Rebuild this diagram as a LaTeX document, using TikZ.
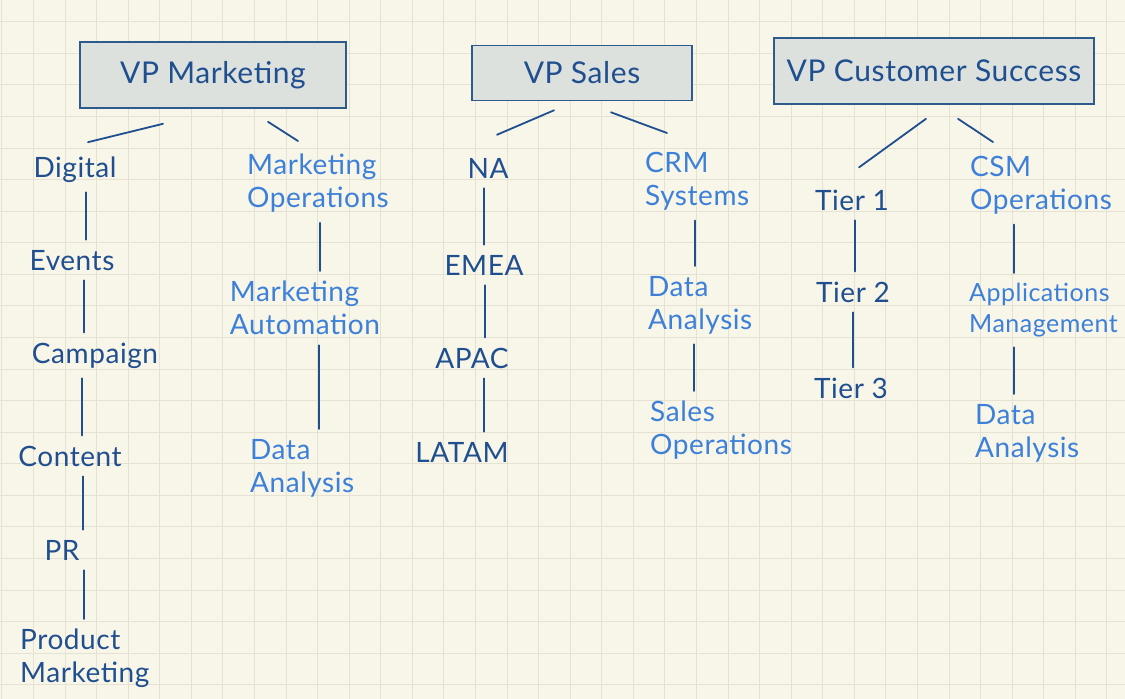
\documentclass[tikz,border=0pt]{standalone}
\usepackage{fontspec}
\newfontfamily\handfam{Lato}[LetterSpace=2]
\definecolor{paper}{HTML}{F8F5E9}
\definecolor{paperline}{HTML}{E6E2D3}
\definecolor{ink}{HTML}{1F4F8F}
\definecolor{sky}{HTML}{3C80D9}
\definecolor{boxfill}{HTML}{DCE1DE}
\definecolor{boxline}{HTML}{2D5B8D}
\newcommand{\handsz}{\handfam\fontsize{28}{33}\selectfont}
\newcommand{\vpsz}{\handfam\fontsize{30}{36}\selectfont}
\tikzset{
  vp/.style={draw=boxline, fill=boxfill, line width=1.6pt, font=\vpsz, text=ink, inner sep=0pt},
  dk/.style={font=\handsz, text=ink, inner sep=0pt, anchor=base},
  lt/.style={font=\handsz, text=sky, inner sep=0pt, align=left, anchor=north west},
  link/.style={draw=ink, line width=1.8pt, line cap=round},
  gridln/.style={draw=paperline, line width=0.9pt},
}

\begin{document}
\begin{tikzpicture}[x=1pt, y=-1pt]
  \useasboundingbox (0,0) rectangle (1125,699);
  \fill[paper] (0,0) rectangle (1125,699);
  \foreach \i in {0,...,35} \draw[gridln] ({1.9+31.57*\i},0) -- ++(0,699);
  \foreach \j in {0,...,21} \draw[gridln] (0,{21.7+31.57*\j}) -- ++(1125,0);

  % heads
  \node[vp, minimum width=266, minimum height=66] (vpm) at (213,75) {VP Marketing};
  \node[vp, minimum width=220, minimum height=55] (vps) at (582,73) {VP Sales};
  \node[vp, minimum width=320, minimum height=66] (vpcs) at (934,71) {VP Customer Success};

  % marketing
  \node[dk] (dig) at (75,177) {Digital};
  \node[dk] (evt) at (72,270) {Events};
  \node[dk] (cmp) at (95,363) {Campaign};
  \node[dk] (cnt) at (70,466) {Content};
  \node[dk] (pr) at (62,560) {PR};
  \node[dk, align=left, anchor=north west] (pm) at (20,629) {Product\\Marketing};
  \node[lt, anchor=north] (mop) at (318,154) {Marketing\\Operations};
  \node[lt, anchor=north] (mau) at (305,281) {Marketing\\Automation};
  \node[lt] (mda) at (250,439) {Data\\Analysis};

  % sales
  \node[dk] (na) at (488,178) {NA};
  \node[dk] (emea) at (484,275) {EMEA};
  \node[dk] (apac) at (472,368) {APAC};
  \node[dk] (latam) at (462,462) {LATAM};
  \node[lt] (crm) at (645,152) {CRM\\Systems};
  \node[lt] (sda) at (648,276) {Data\\Analysis};
  \node[lt] (sop) at (650,401) {Sales\\Operations};

  % customer success
  \node[dk] (t1) at (852,210) {Tier 1};
  \node[dk] (t2) at (853,302) {Tier 2};
  \node[dk] (t3) at (851,398) {Tier 3};
  \node[lt] (csm) at (970,156) {CSM\\Operations};
  \node[lt, font=\handfam\fontsize{25}{31}\selectfont] (app) at (969,283) {Applications\\Management};
  \node[lt] (cda) at (975,404) {Data\\Analysis};

  \draw[link] ([shift={(-50,15)}]vpm.south) -- ([shift={(13,-14)}]dig.north);
  \draw[link] ([shift={(55,13)}]vpm.south) -- ([shift={(-20,-13)}]mop.north);
  \draw[link] ([shift={(-28,9)}]vps.south) -- ([shift={(9,-23)}]na.north);
  \draw[link] ([shift={(29,11)}]vps.south) -- ([shift={(22,-19)}]crm.north west);
  \draw[link] ([shift={(-8,14)}]vpcs.south) -- ([shift={(7,-22)}]t1.north);
  \draw[link] ([shift={(24,14)}]vpcs.south) -- ([shift={(23,-14)}]csm.north west);

  \foreach \a/\b/\x in {dig/evt/86, evt/cmp/84, cmp/cnt/82, cnt/pr/83, pr/pm/84,
      mop/mau/320, mau/mda/319, na/emea/484, emea/apac/485, apac/latam/484,
      crm/sda/695, sda/sop/694, t1/t2/855, t2/t3/853, csm/app/1014, app/cda/1014}
    \draw[link, shorten <=10pt, shorten >=10pt] (\a.south -| \x,0) -- (\b.north -| \x,0);
\end{tikzpicture}
\end{document}
